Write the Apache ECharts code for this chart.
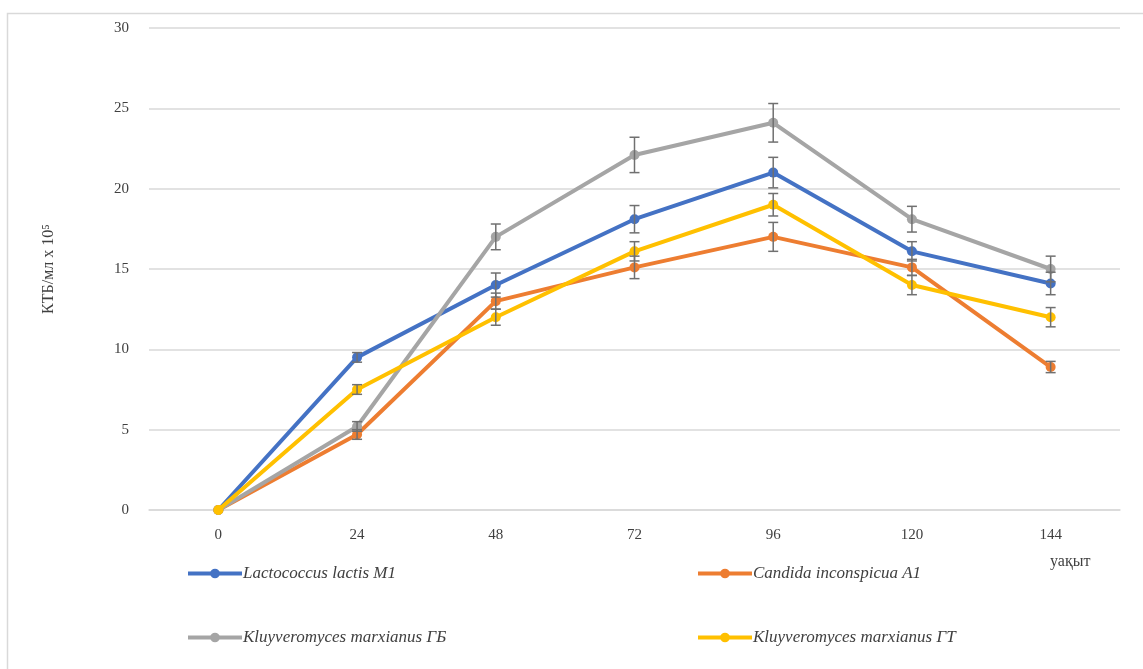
<!DOCTYPE html>
<html><head><meta charset="utf-8">
<script src="https://cdn.jsdelivr.net/npm/echarts@6/dist/echarts.min.js"></script>
<style>html,body{margin:0;padding:0;background:#fff}#c{width:1143px;height:669px}</style>
</head><body><div id="c"></div>
<script>
const categories = ['0','24','48','72','96','120','144'];
const names = ['Lactococcus lactis M1','Candida inconspicua A1','Kluyveromyces marxianus ГБ','Kluyveromyces marxianus ГТ'];
const colors = ['#4472c4','#ed7d31','#a5a5a5','#ffc000'];
const lactis = [0, 9.5, 14.0, 18.1, 21.0, 16.1, 14.1];
const candida = [0, 4.7, 13.0, 15.1, 17.0, 15.1, 8.9];
const kmGB = [0, 5.2, 17.0, 22.1, 24.1, 18.1, 15.0];
const kmGT = [0, 7.5, 12.0, 16.1, 19.0, 14.0, 12.0];
const lactisErr = [0, 0.3, 0.75, 0.85, 0.95, 0.6, 0.7];
const candidaErr = [0, 0.3, 0.5, 0.7, 0.9, 0.5, 0.35];
const kmGBErr = [0, 0.3, 0.8, 1.1, 1.2, 0.8, 0.8];
const kmGTErr = [0, 0.3, 0.5, 0.6, 0.7, 0.6, 0.6];
const yTicks = {min: 0, max: 30, interval: 5};

const values = [lactis, candida, kmGB, kmGT];
const errs = [lactisErr, candidaErr, kmGBErr, kmGTErr];
const font = '"Liberation Serif", "DejaVu Serif", serif';

const series = [];
values.forEach((v, i) => {
  series.push({
    name: names[i], type: 'line', data: v,
    symbol: 'circle', symbolSize: 10,
    lineStyle: {width: 4, color: colors[i]},
    itemStyle: {color: colors[i]},
    z: 3 + i
  });
  series.push({
    type: 'custom', z: 10,
    data: v.map((y, k) => [k, y, errs[i][k]]),
    renderItem: function (params, api) {
      const x = api.value(0), y = api.value(1), e = api.value(2);
      if (!e) return null;
      const top = api.coord([x, y + e]);
      const bot = api.coord([x, y - e]);
      const w = 5;
      const st = {stroke: '#707070', lineWidth: 1.5};
      return {type: 'group', children: [
        {type: 'line', shape: {x1: top[0], y1: top[1], x2: bot[0], y2: bot[1]}, style: st},
        {type: 'line', shape: {x1: top[0]-w, y1: top[1], x2: top[0]+w, y2: top[1]}, style: st},
        {type: 'line', shape: {x1: bot[0]-w, y1: bot[1], x2: bot[0]+w, y2: bot[1]}, style: st}
      ]};
    }
  });
});

const legendPos = [[181, 560], [691, 560], [181, 624], [691, 624]];
const legends = names.map((n, i) => ({
  data: [n], left: legendPos[i][0], top: legendPos[i][1],
  itemWidth: 54, itemHeight: 12, itemGap: 0,
  lineStyle: {width: 4},
  textStyle: {fontFamily: font, fontStyle: 'italic', fontSize: 17, color: '#404040', padding: [0, 0, 0, -4]}
}));

const chart = echarts.init(document.getElementById('c'));
chart.setOption({
  animation: false,
  backgroundColor: '#fff',
  color: colors,
  grid: {left: 149, right: 23, top: 28, bottom: 159},
  legend: legends,
  xAxis: {
    type: 'category', data: categories, boundaryGap: true,
    name: 'уақыт', nameLocation: 'end', nameGap: 0,
    nameTextStyle: {fontFamily: font, fontSize: 16, color: '#404040', padding: [44, 0, 0, -70], verticalAlign: 'top'},
    axisLine: {show: true, lineStyle: {color: '#d9d9d9', width: 1.5}},
    axisTick: {show: false},
    axisLabel: {fontFamily: font, fontSize: 15, color: '#404040', margin: 18}
  },
  yAxis: {
    type: 'value', min: yTicks.min, max: yTicks.max, interval: yTicks.interval,
    name: 'КТБ/мл x 10⁵', nameLocation: 'middle', nameGap: 92, nameRotate: 90,
    nameTextStyle: {fontFamily: font, fontSize: 16, color: '#404040'},
    axisLine: {show: false}, axisTick: {show: false},
    axisLabel: {fontFamily: font, fontSize: 15, color: '#404040', margin: 20},
    splitLine: {lineStyle: {color: '#d9d9d9', width: 1.5}}
  },
  graphic: [{type: 'rect', shape: {x: 7.5, y: 13.5, width: 1140, height: 660}, style: {fill: 'none', stroke: '#d9d9d9', lineWidth: 1.5}, silent: true}],
  series: series
});
</script></body></html>
